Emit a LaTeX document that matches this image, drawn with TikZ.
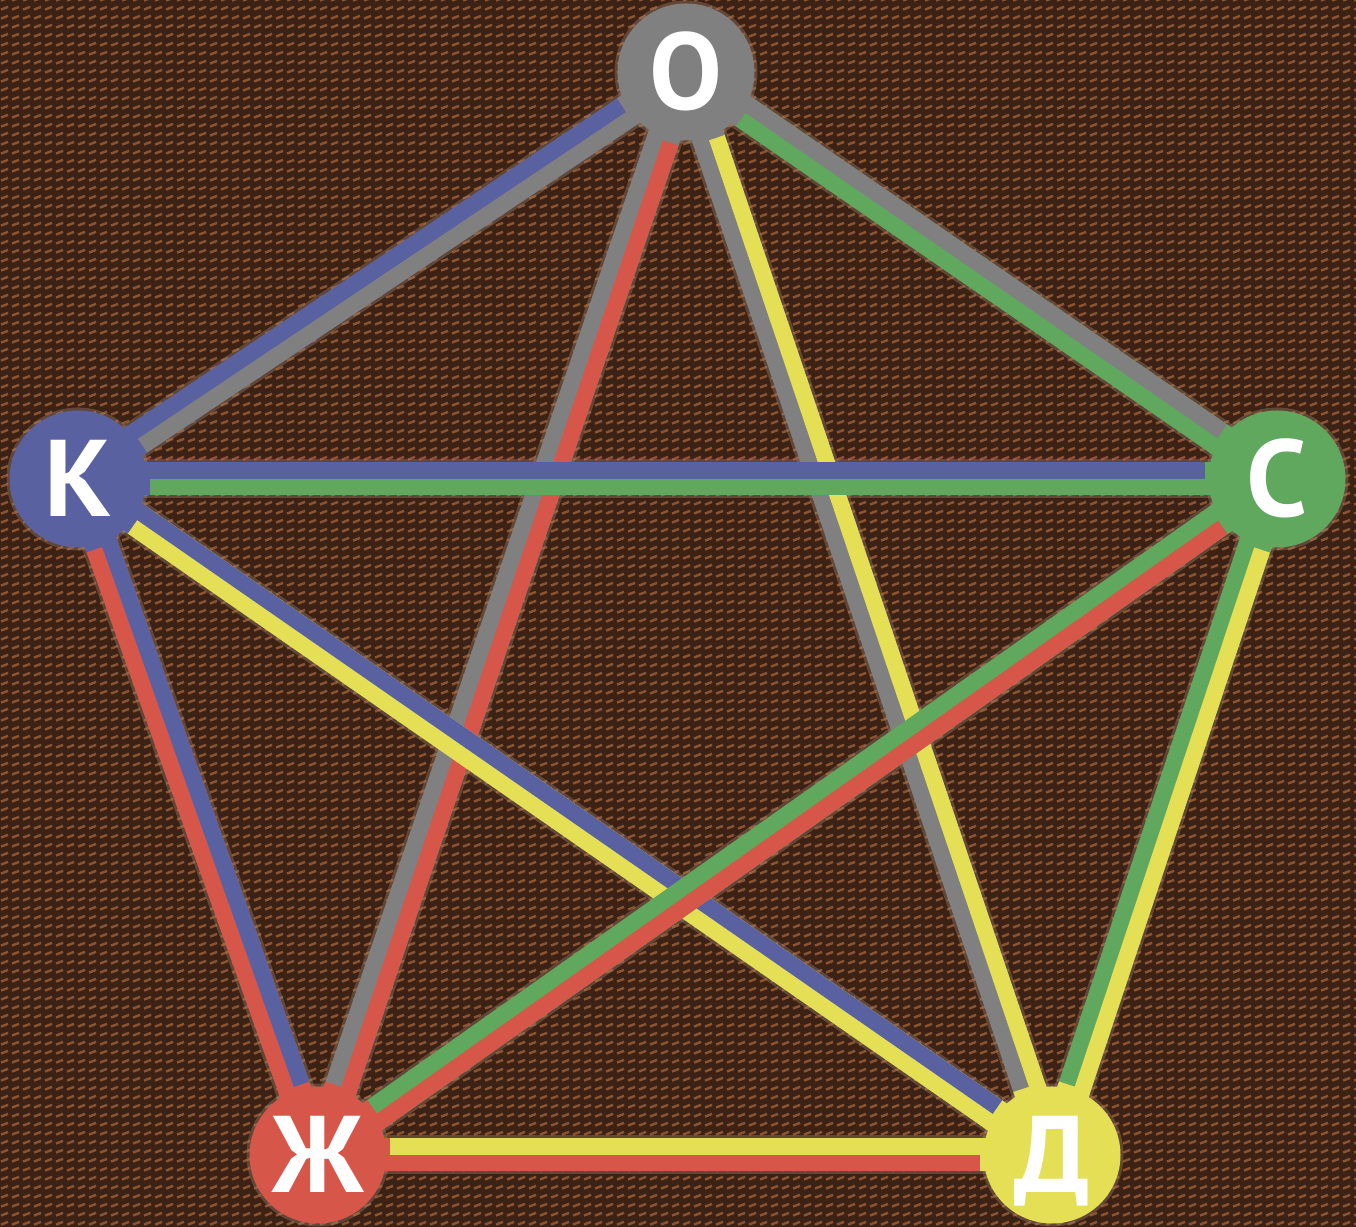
\documentclass[tikz,border=0pt]{standalone}
\usepackage{fontspec}
\usepackage{tikz}
\usetikzlibrary{calc,patterns}
\newfontfamily\letterfont{PT Sans}
\definecolor{bgbrown}{RGB}{60,34,20}
\definecolor{weft}{RGB}{138,84,50}
\definecolor{haze}{RGB}{170,140,118}
\definecolor{gry}{RGB}{128,128,128}
\definecolor{blu}{RGB}{90,97,160}
\definecolor{grn}{RGB}{96,168,94}
\definecolor{rd}{RGB}{215,86,74}
\definecolor{ylw}{RGB}{229,223,86}
% short slanted threads, like the woven backdrop
\pgfdeclarepatternformonly{weave}{\pgfqpoint{0pt}{0pt}}{\pgfqpoint{3pt}{2.5pt}}{\pgfqpoint{3pt}{2.5pt}}{%
  \pgfsetlinewidth{0.7pt}
  \pgfpathmoveto{\pgfqpoint{0.3pt}{0.7pt}}
  \pgfpathlineto{\pgfqpoint{2.4pt}{1.5pt}}
  \pgfusepath{stroke}}
\tikzset{
  bg/.style={fill=bgbrown},
  cloth/.style={pattern=weave,pattern color=weft},
  halo/.style={line width=0.39cm,haze,opacity=0.35},
  full/.style={line width=0.33cm},
  half/.style={line width=0.165cm},
  stub/.style={line width=0.33cm},
  vert/.style={circle,inner sep=0pt,minimum size=1.37cm,text=white,
    font=\letterfont\bfseries\fontsize{31}{31}\selectfont,
    text height=21.5pt,text depth=0pt},
}
% edge #1 -- #2: stripe #3 on its left, stripe #4 on its right
\newcommand\twotone[4]{%
  \draw[full,#4] (#1) -- (#2);
  \draw[half,#3] ($(#1)!0.0825cm!90:(#2)$) -- ($(#2)!0.0825cm!-90:(#1)$);
}

\begin{document}
\begin{tikzpicture}
    \fill[bg] (0,0) rectangle (13.56,12.27);
    \fill[cloth] (0,0) rectangle (13.56,12.27);
    \useasboundingbox (0,0) rectangle (13.56,12.27);
    % vertices of the pentagon
    \coordinate (O) at (6.86,11.55);
    \coordinate (K) at (0.78,7.48);
    \coordinate (C) at (12.77,7.48);
    \coordinate (Zh) at (3.18,0.72);
    \coordinate (D) at (10.52,0.72);
    % ---------- faint glow under everything ----------
    \foreach \a/\b in {O/K,O/C,O/Zh,O/D,K/C,K/Zh,K/D,C/Zh,C/D,Zh/D}
      \draw[halo] (\a) -- (\b);
    \foreach \v in {O,K,C,Zh,D}
      \fill[haze,opacity=0.35] (\v) circle (0.715);
    % ---------- edges, lowest first ----------
    \twotone{O}{Zh}{rd}{gry}
    \twotone{O}{D}{ylw}{gry}
    \twotone{K}{D}{blu}{ylw}
    \twotone{C}{Zh}{rd}{grn}
    \twotone{K}{C}{blu}{grn}
    % outer ring
    \twotone{O}{K}{gry}{blu}
    \twotone{O}{C}{gry}{grn}
    \twotone{K}{Zh}{blu}{rd}
    \twotone{C}{D}{ylw}{grn}
    \twotone{Zh}{D}{ylw}{rd}
    % ---------- vertex colour runs a little way into each edge ----------
    \foreach \v/\col/\nb in {O/gry/{K,C,Zh,D},K/blu/{O,C,Zh,D},C/grn/{O,K,Zh,D},
                             Zh/rd/{O,K,C,D},D/ylw/{O,K,C,Zh}}
      \foreach \u in \nb
        \draw[stub,\col] (\v) -- ($(\v)!0.72cm!(\u)$);
    % ---------- vertices ----------
    \node[vert,fill=gry] (vO) at (O) {О};
    \node[vert,fill=blu] (vK) at (K) {К};
    \node[vert,fill=grn] (vC) at (C) {С};
    \node[vert,fill=rd] (vZh) at (Zh) {Ж};
    \node[vert,fill=ylw] (vD) at (D) {Д};
\end{tikzpicture}
\end{document}
